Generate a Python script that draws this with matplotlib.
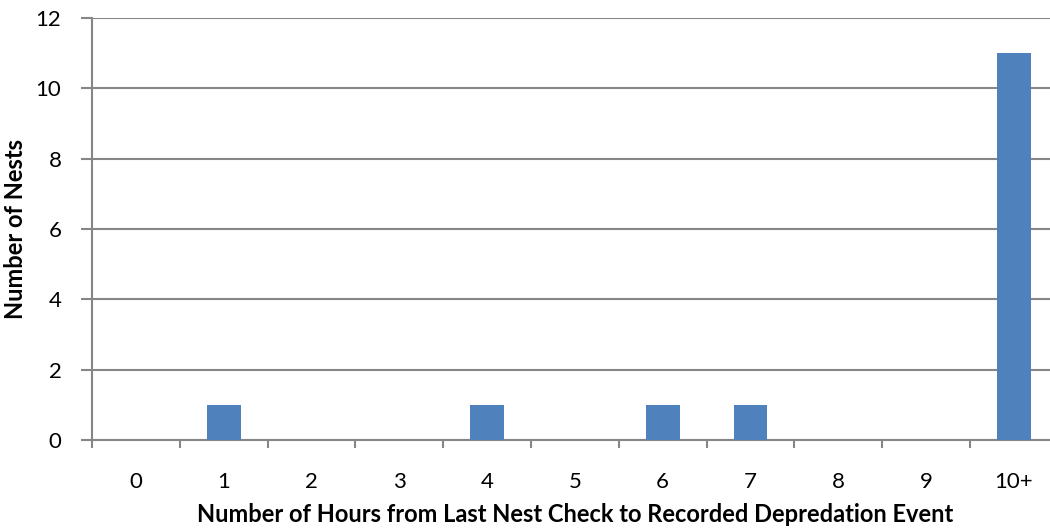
import matplotlib
matplotlib.use("Agg")
import matplotlib.pyplot as plt
import numpy as np

categories = ["0", "1", "2", "3", "4", "5", "6", "7", "8", "9", "10+"]
nests = [0, 1, 0, 0, 1, 0, 1, 1, 0, 0, 11]
y_ticks = [0, 2, 4, 6, 8, 10, 12]

plt.rcParams["font.family"] = ["Lato", "DejaVu Sans"]
grid_color = "#868686"
bar_color = "#4F81BD"

fig = plt.figure(figsize=(10.5, 5.29), dpi=100)
ax = fig.add_axes([92 / 1050, 89 / 529, 965.8 / 1050, 422 / 529])

x = np.arange(len(categories))
ax.bar(x, nests, width=0.385, color=bar_color, zorder=3)

ax.set_xlim(-0.5, len(categories) - 0.5)
ax.set_ylim(0, 12)

# category boundaries carry the tick marks, centres carry the labels
ax.set_xticks(np.arange(-0.5, len(categories), 1.0))
ax.set_xticklabels([])
ax.set_xticks(x, minor=True)
ax.set_xticklabels(categories, minor=True, fontsize=16)
ax.tick_params(axis="x", which="major", direction="out", length=6, width=1.5, color=grid_color)
ax.tick_params(axis="x", which="minor", length=0, pad=23)

ax.set_yticks(y_ticks)
ax.set_yticklabels([str(v) for v in y_ticks], fontsize=16)
ax.tick_params(axis="y", direction="out", length=8, width=1.5, color=grid_color, pad=14)

ax.grid(axis="y", color=grid_color, linewidth=1.5, zorder=0)
ax.set_axisbelow(True)

for side in ["top", "right"]:
    ax.spines[side].set_visible(False)
for side in ["left", "bottom"]:
    ax.spines[side].set_color(grid_color)
    ax.spines[side].set_linewidth(1.5)

ax.set_xlabel("Number of Hours from Last Nest Check to Recorded Depredation Event",
              fontsize=17, fontweight="bold", labelpad=8)
ax.set_ylabel("Number of Nests", fontsize=17, fontweight="bold")
ax.yaxis.set_label_coords(-0.067, 0.5)

fig.savefig("out.png", dpi=100)
